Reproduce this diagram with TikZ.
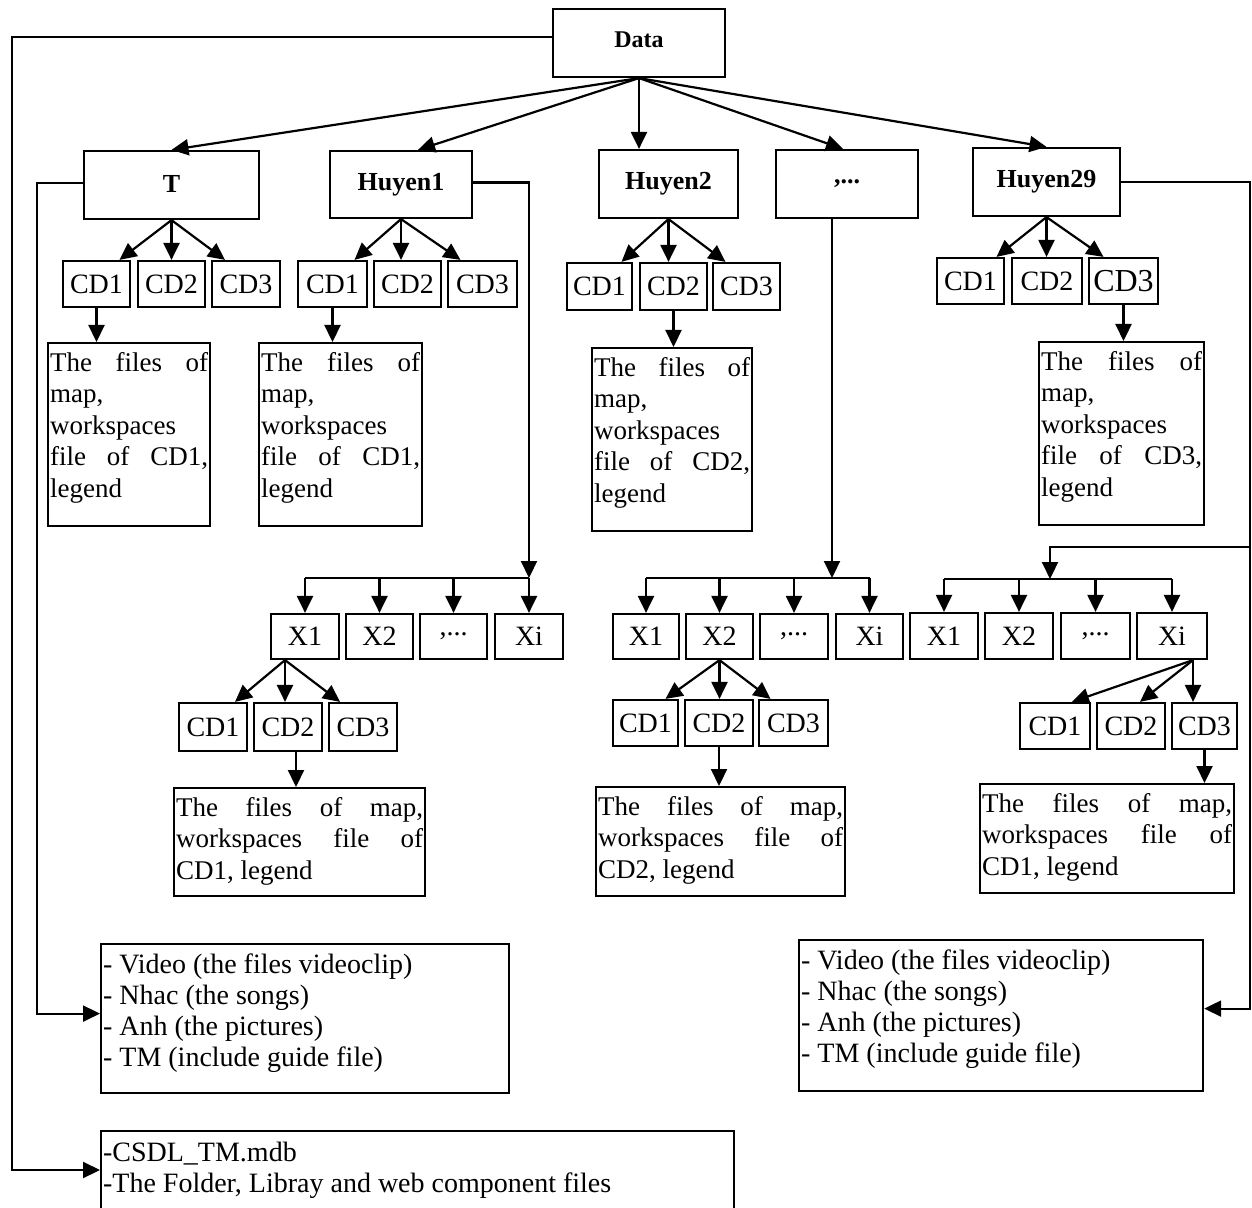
\documentclass[tikz,border=0pt]{standalone}
\usepackage{fontspec}
\setmainfont{Liberation Serif}
\usetikzlibrary{arrows.meta,calc}
% box by pixel corners: [opts]{name}{x1}{y1}{x2}{y2}{text}
\newcommand\bx[7][]{\node[box,#1,minimum width={(#5-#3)*0.5pt},minimum height={(#6-#4)*0.5pt}] (#2) at ({(#3+#5)/2},{(#4+#6)/2}) {#7};}
% text box, text at top-left: [opts]{name}{x1}{y1}{x2}{y2}{first-line height}{text}
\newcommand\tb[8][]{\node[box,#1,inner xsep=1pt,inner ysep=0pt,anchor=north west] (#2) at (#3,#4) {\parbox[t][\dimexpr(#6pt-#4pt)/2\relax][t]{\dimexpr(#5pt-#3pt)/2-2pt\relax}{\rule{0pt}{#7}#8}};}
\begin{document}
\begin{tikzpicture}[x=0.5pt,y=-0.5pt,
  box/.style={draw,line width=1.1pt,inner sep=0pt,font=\fontsize{14}{16}\selectfont},
  hd/.style={font=\bfseries\fontsize{13}{15}\selectfont},
  ftxt/.style={font=\fontsize{13.5}{15.75}\selectfont},
  btxt/.style={font=\fontsize{14}{15.6}\selectfont},
  ln/.style={line width=1.1pt},
  arr/.style={ln,-{Triangle[length=8.5pt,width=8pt]}}]
\useasboundingbox (0,0) rectangle (1252,1208);
\clip (0,0) rectangle (1252,1208);

% ---- top level
\bx[font=\bfseries\fontsize{12}{14}\selectfont]{data}{553}{9}{725}{77}{\raisebox{3pt}{Data}}
\bx[hd]{t}{84}{151}{259}{219}{\raisebox{1.5pt}{T}}
\bx[hd]{h1}{330}{151}{472}{218}{Huyen1}
\bx[hd]{h2}{599}{150}{738}{218}{Huyen2}
\bx[hd]{hdots}{776}{150}{918}{218}{,...}
\bx[hd]{h29}{973}{148}{1120}{216}{Huyen29}

% ---- CD rows under top boxes
\bx{tc1}{63}{261}{130}{307}{CD1}
\bx{tc2}{138}{261}{205}{307}{CD2}
\bx{tc3}{212}{261}{280}{307}{CD3}
\bx{ac1}{298}{261}{367}{307}{CD1}
\bx{ac2}{374}{261}{441}{307}{CD2}
\bx{ac3}{448}{261}{517}{307}{CD3}
\bx{bc1}{567}{263}{632}{310}{CD1}
\bx{bc2}{640}{263}{707}{310}{CD2}
\bx{bc3}{713}{263}{780}{310}{CD3}
\bx{zc1}{937}{258}{1004}{304}{CD1}
\bx{zc2}{1012}{258}{1082}{304}{CD2}
\bx[font=\fontsize{16}{18}\selectfont]{zc3}{1089}{258}{1158}{304}{CD3}

% ---- file boxes (upper)
\tb[ftxt]{tf}{47}{342}{209}{525}{14pt}{The\hfill files\hfill of\\map,\\workspaces\\file\hfill of\hfill CD1,\\legend}
\tb[ftxt]{af}{258}{342}{421}{525}{14pt}{The\hfill files\hfill of\\map,\\workspaces\\file\hfill of\hfill CD1,\\legend}
\tb[ftxt]{bf}{591}{347}{751}{530}{14pt}{The\hfill files\hfill of\\map,\\workspaces\\file\hfill of\hfill CD2,\\legend}
\tb[ftxt]{zf}{1038}{341}{1203}{524}{14pt}{The\hfill files\hfill of\\map,\\workspaces\\file\hfill of\hfill CD3,\\legend}

% ---- X rows
\bx{g1x1}{271}{614}{339}{659}{X1}
\bx{g1x2}{346}{614}{413}{659}{X2}
\bx{g1x3}{420}{614}{487}{659}{,...}
\bx{g1x4}{495}{614}{563}{659}{Xi}
\bx{g2x1}{613}{614}{679}{659}{X1}
\bx{g2x2}{686}{614}{753}{659}{X2}
\bx{g2x3}{760}{614}{828}{659}{,...}
\bx{g2x4}{836}{614}{903}{659}{Xi}
\bx{g3x1}{910}{613}{978}{659}{X1}
\bx{g3x2}{985}{613}{1053}{659}{X2}
\bx{g3x3}{1061}{613}{1130}{659}{,...}
\bx{g3x4}{1137}{613}{1207}{659}{Xi}

% ---- CD rows under X
\bx{g1c1}{179}{703}{247}{751}{CD1}
\bx{g1c2}{254}{703}{322}{751}{CD2}
\bx{g1c3}{329}{703}{397}{751}{CD3}
\bx{g2c1}{613}{700}{678}{746}{CD1}
\bx{g2c2}{685}{700}{753}{746}{CD2}
\bx{g2c3}{759}{700}{828}{746}{CD3}
\bx{g3c1}{1020}{703}{1090}{749}{CD1}
\bx{g3c2}{1097}{703}{1165}{749}{CD2}
\bx{g3c3}{1172}{703}{1237}{749}{CD3}

% ---- file boxes (lower)
\tb[ftxt]{g1f}{173}{787}{424}{895}{14pt}{The\hfill files\hfill of\hfill map,\\workspaces\hfill file\hfill of\\CD1, legend}
\tb[ftxt]{g2f}{595}{786}{844}{895}{14pt}{The\hfill files\hfill of\hfill map,\\workspaces\hfill file\hfill of\\CD2, legend}
\tb[ftxt]{g3f}{979}{783}{1233}{892}{14pt}{The\hfill files\hfill of\hfill map,\\workspaces\hfill file\hfill of\\CD1, legend}

% ---- bottom boxes
\tb[btxt]{vl}{100}{943}{508}{1092}{14.5pt}{- Video (the files videoclip)\\- Nhac (the songs)\\- Anh (the pictures)\\- TM (include guide file)}
\tb[btxt]{vr}{798}{939}{1202}{1090}{14.5pt}{- Video (the files videoclip)\\- Nhac (the songs)\\- Anh (the pictures)\\- TM (include guide file)}
\tb[btxt]{cs}{100}{1130}{733}{1216}{15pt}{-CSDL\_TM.mdb\\-The Folder, Libray and web component files}

% ---- connectors from Data
\draw[arr] (data.south) -- (t.north);
\draw[arr] (data.south) -- ([xshift=8.5pt]h1.north);
\draw[arr] (data.south) -- (data.south |- h2.north);
\draw[arr] (data.south) -- ([xshift=-2pt]hdots.north);
\draw[arr] (data.south) -- (h29.north);

% ---- fans to CDs
\draw[arr] (t.south) -- ([xshift=11.5pt]tc1.north);
\draw[arr] (t.south) -- (t.south |- tc2.north);
\draw[arr] (t.south) -- ([xshift=-10.5pt]tc3.north);
\draw[arr] (h1.south) -- ([xshift=11pt]ac1.north);
\draw[arr] (h1.south) -- (h1.south |- ac2.north);
\draw[arr] (h1.south) -- ([xshift=-11pt]ac3.north);
\draw[arr] (h2.south) -- ([xshift=11pt]bc1.north);
\draw[arr] (h2.south) -- (h2.south |- bc2.north);
\draw[arr] (h2.south) -- ([xshift=-10.5pt]bc3.north);
\draw[arr] (h29.south) -- ([xshift=13pt]zc1.north);
\draw[arr] (h29.south) -- (h29.south |- zc2.north);
\draw[arr] (h29.south) -- ([xshift=-10pt]zc3.north);

% ---- CD to files (upper)
\draw[arr] (tc1.south) -- (tc1.south |- tf.north);
\draw[arr] (ac1.south) -- (ac1.south |- af.north);
\draw[arr] (bc2.south) -- (bc2.south |- bf.north);
\draw[arr] (zc3.south) -- (zc3.south |- zf.north);

% ---- outer connectors
\coordinate (ol) at (12,37);
\draw[arr] ([yshift=3pt]data.west) -- (ol) |- ([yshift=-20pt]cs.north west);
\coordinate (tl) at (37,183);
\draw[arr] ([yshift=1pt]t.west) -- (tl) |- ([yshift=2.5pt]vl.west);
\coordinate (r1) at (1250,182);
\coordinate (r2) at (1250,547);
\coordinate (r3) at (1050,547);
\draw[arr] (h29.east) -- (r1) |- ([yshift=3.5pt]vr.east);

% ---- bars to X rows
\coordinate (bar1) at (0,578);
\coordinate (bar2) at (0,578);
\coordinate (bar3) at (0,579);
\coordinate (b1) at (529,578);
\draw[arr] ([yshift=1pt]h1.east) -| (b1);
\draw[ln] (g1x1.north |- bar1) -- (g1x4.north |- bar1);
\foreach \n in {g1x1,g1x2,g1x3,g1x4} \draw[arr] (\n.north |- bar1) -- (\n.north);
\draw[arr] ([xshift=-7.5pt]hdots.south) -- ([xshift=-7.5pt]hdots.south |- bar2);
\draw[ln] (g2x1.north |- bar2) -- (g2x4.north |- bar2);
\foreach \n in {g2x1,g2x2,g2x3,g2x4} \draw[arr] (\n.north |- bar2) -- (\n.north);
\draw[arr] (r2) -- (r3) -- (r3 |- bar3);
\draw[ln] (g3x1.north |- bar3) -- (g3x4.north |- bar3);
\foreach \n in {g3x1,g3x2,g3x3,g3x4} \draw[arr] (\n.north |- bar3) -- (\n.north);

% ---- X fans
\coordinate (o1) at ([xshift=-10pt]g1x1.south);
\draw[arr] (o1) -- ([xshift=11pt]g1c1.north);
\draw[arr] (o1) -- (o1 |- g1c2.north);
\draw[arr] (o1) -- ([xshift=-11.5pt]g1c3.north);
\coordinate (o2) at (g2x2.south);
\draw[arr] (o2) -- ([xshift=10pt]g2c1.north);
\draw[arr] (o2) -- (o2 |- g2c2.north);
\draw[arr] (o2) -- ([xshift=-11.5pt]g2c3.north);
\coordinate (o3) at ([xshift=10.5pt]g3x4.south);
\draw[arr] (o3) -- ([xshift=8.5pt]g3c1.north);
\draw[arr] (o3) -- ([xshift=4.5pt]g3c2.north);
\draw[arr] (o3) -- (o3 |- g3c3.north);

% ---- CD to files (lower)
\draw[arr] ([xshift=4pt]g1c2.south) -- ([xshift=4pt]g1c2.south |- g1f.north);
\draw[arr] (g2c2.south) -- (g2c2.south |- g2f.north);
\draw[arr] (g3c3.south) -- (g3c3.south |- g3f.north);
\end{tikzpicture}
\end{document}
